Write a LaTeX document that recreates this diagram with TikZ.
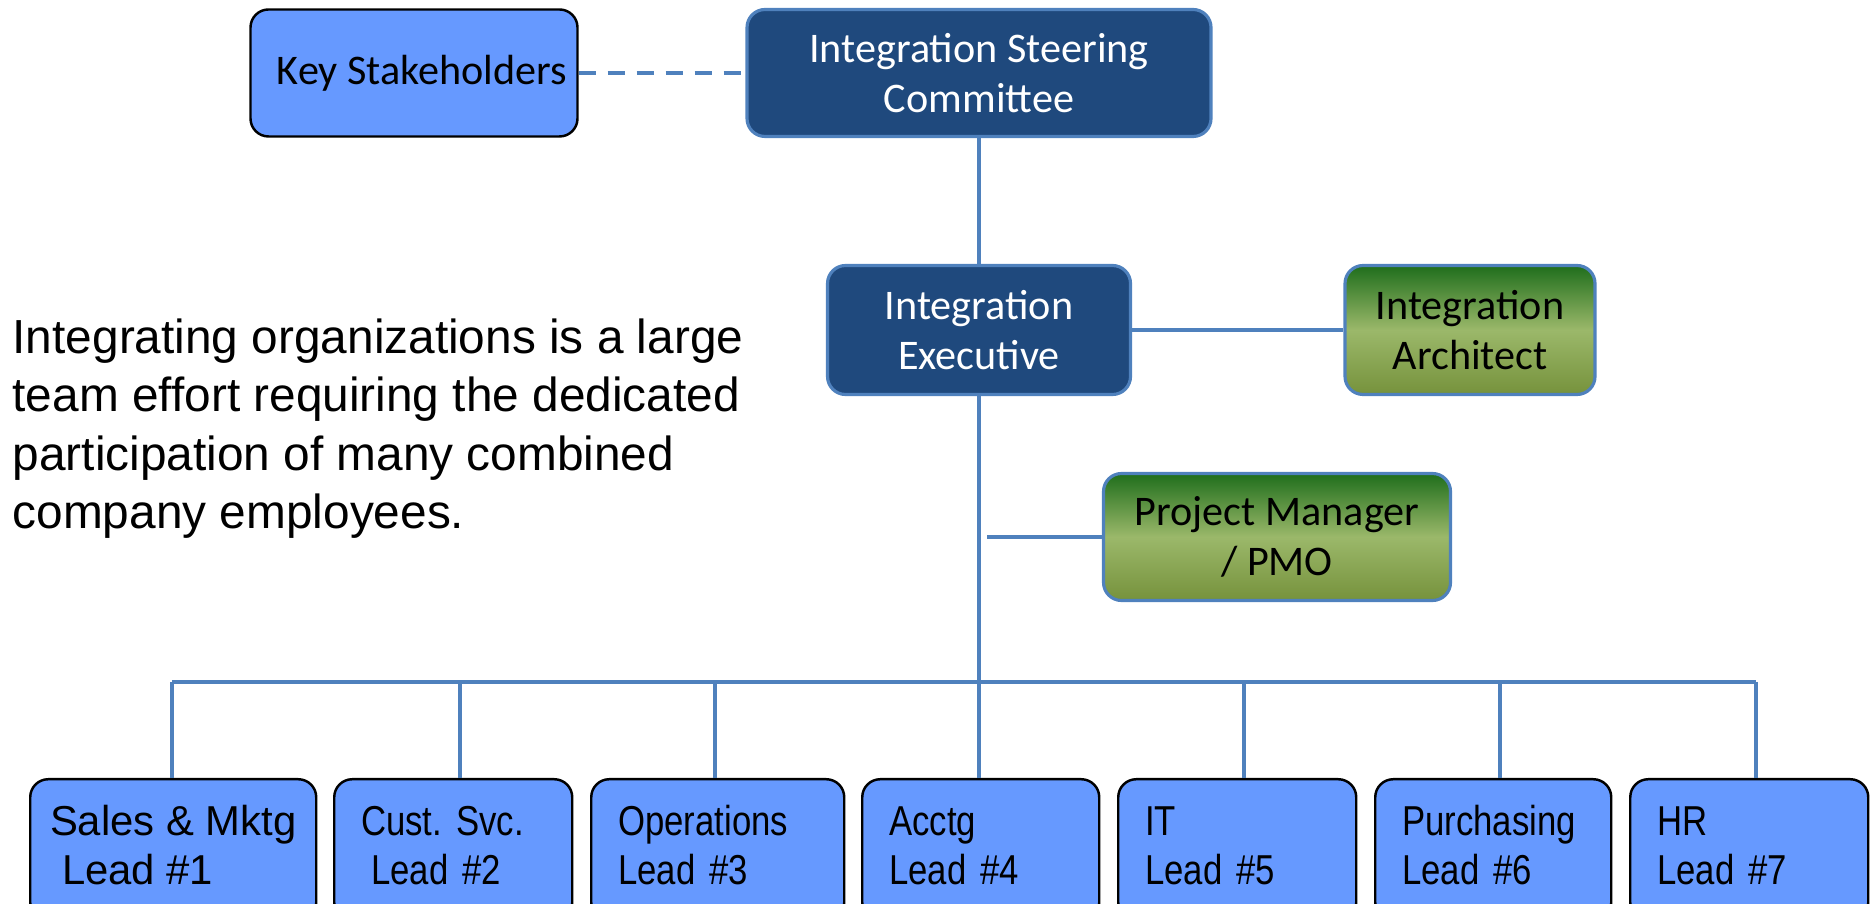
\documentclass[tikz,border=0pt]{standalone}
\usepackage{fontspec}
\setmainfont{Liberation Sans}
\newfontfamily\calibri{Carlito}
\newfontfamily\narrowarial[FakeStretch=0.83]{Liberation Sans}
\usetikzlibrary{positioning, calc}

\definecolor{boxblue}{HTML}{6699FF}
\definecolor{navyblue}{HTML}{1F497D}
\definecolor{lineblue}{HTML}{4F81BD}
\definecolor{greentop}{HTML}{1F6E1C}
\definecolor{greenmid}{HTML}{9BB86A}
\definecolor{greenbot}{HTML}{76923C}

\begin{document}
\begin{tikzpicture}[
          x=0.1mm, y=-0.1mm,
          box/.style={rounded corners=1.8mm, align=center, inner sep=0pt, font=\calibri\fontsize{12pt}{14.3pt}\selectfont},
          key_box/.style={box, fill=boxblue, draw=black, line width=0.7pt},
          exec_box/.style={box, fill=navyblue, draw=lineblue, line width=0.9pt, text=white},
          green_box/.style={box, top color=greentop, bottom color=greenbot, middle color=greenmid, draw=lineblue, line width=0.9pt},
          lead_box/.style={rounded corners=1.8mm, fill=boxblue, draw=black, line width=0.7pt, anchor=north west, align=left, inner xsep=2.7mm, inner ysep=2.18mm, font=\narrowarial\fontsize{11.9pt}{13.9pt}\selectfont},
          link/.style={draw=lineblue, line width=1.1pt}
      ]
          \useasboundingbox (0,0) rectangle (1873,904);

          % Bagian atas: stakeholders dan steering committee
          \node[key_box, minimum width=32.7mm, minimum height=12.7mm] (stake) at (414,73) {\hspace*{1.6mm}Key Stakeholders};
          \node[exec_box, minimum width=46.4mm, minimum height=12.7mm] (steer) at (979,73) {Integration Steering\\Committee};
          \draw[link, dash pattern=on 1.7mm off 1.2mm] (stake.east) -- (steer.west);

          % Eksekutif dan arsitek
          \node[exec_box, minimum width=30.3mm, minimum height=12.9mm] (exec) at (979,330) {Integration\\Executive};
          \node[green_box, minimum width=25.0mm, minimum height=12.9mm] (arch) at (1470,330) {Integration\\Architect};
          \node[green_box, minimum width=34.7mm, minimum height=12.7mm] (pm) at (1277,537) {Project Manager\\/ PMO};
          \draw[link] (steer.south) -- (exec.north);
          \draw[link] (exec.east) -- (arch.west);
          \coordinate (pmj) at ($(exec.south |- pm.west)+(8,0)$);
          \draw[link] (pmj) -- (pm.west);

          % Teks keterangan
          \node[anchor=north west, align=left, inner sep=0pt, font=\fontsize{13.6pt}{16.6pt}\selectfont] (note) at (12,318)
              {Integrating organizations is a large\\team effort requiring the dedicated\\participation of many combined\\company employees.};

          % Baris bawah: para lead
          \node[lead_box, minimum width=28.6mm, inner xsep=0pt, font=\fontsize{11.9pt}{13.9pt}\selectfont] (l1) at (29,778) {\strut Sales \& Mktg\\\hspace*{1.2mm}Lead \#1\strut};
          \node[lead_box, text width=18.4mm] (l2) at (333,778) {\strut Cust.\ Svc.\\\hspace*{1.0mm}Lead \#2\strut};
          \node[lead_box, text width=19.9mm] (l3) at (590,778) {\strut Operations\\Lead \#3\strut};
          \node[lead_box, text width=18.3mm] (l4) at (861,778) {\strut Acctg\\Lead \#4\strut};
          \node[lead_box, text width=18.4mm] (l5) at (1117,778) {\strut IT\\Lead \#5\strut};
          \node[lead_box, text width=18.2mm] (l6) at (1374,778) {\strut Purchasing\\Lead \#6\strut};
          \node[lead_box, text width=18.4mm] (l7) at (1629,778) {\strut HR\\Lead \#7\strut};

          \coordinate (bus) at (0,682);
          \draw[link] (exec.south) -- (exec.south |- l4.north);
          \draw[link] ($(l1.north |- bus)+(-1,0)$) -- ($(l7.north |- bus)+(7,0)$);
          \foreach \n/\dx in {1/-1, 2/7, 3/-3, 5/7, 6/7, 7/7}
              \draw[link] ($(l\n.north |- bus)+(\dx,0)$) -- ($(l\n.north)+(\dx,0)$);
      \end{tikzpicture}
\end{document}
